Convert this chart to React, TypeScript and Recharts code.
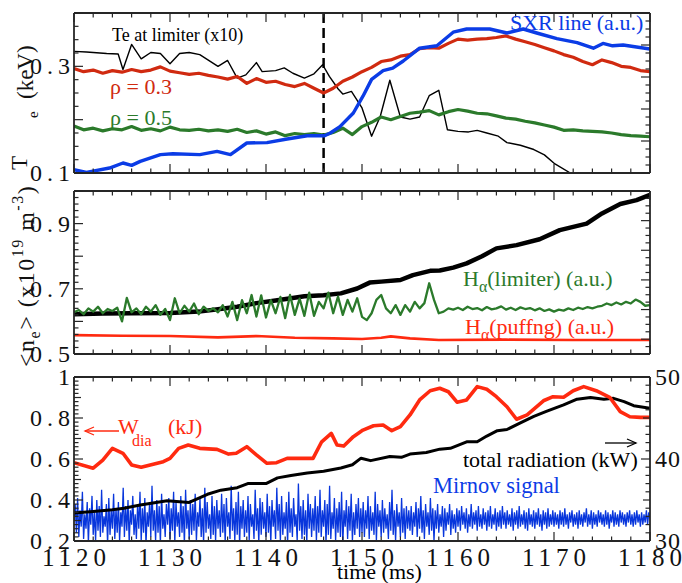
import React from 'react';
import { ComposedChart, Line, XAxis, YAxis, ReferenceLine } from 'recharts';

const FONT = "'Liberation Serif', 'Times New Roman', Times, serif";
const W = 682;
const H = 583;

// ---------- axes / ticks ----------
const TIME_DOMAIN = [1120, 1180];
const TIME_LABELS = [1120, 1130, 1140, 1150, 1160, 1170, 1180];
const P1_LABELS = [0.1, 0.3];
const P2_LABELS = [0.5, 0.7, 0.9];
const P3_LABELS = [0.2, 0.4, 0.6, 0.8, 1];
const P3_RIGHT_LABELS = [30, 40, 50];
const DASH_TIME = 1146;

// ---------- panel 1 : Te ----------
const TE_RHO03: [number, number][] = [
  [1120, 0.296], [1121, 0.290], [1122, 0.293], [1123, 0.287], [1124, 0.292], [1125, 0.289], [1126, 0.294], [1127, 0.290],
  [1128, 0.293], [1129, 0.299], [1130, 0.291], [1131, 0.288], [1132, 0.285], [1133, 0.287], [1134, 0.283], [1135, 0.280],
  [1136, 0.276], [1137, 0.281], [1138, 0.268], [1139, 0.277], [1140, 0.270], [1141, 0.272], [1142, 0.266], [1143, 0.262],
  [1144, 0.268], [1145, 0.259], [1146, 0.250], [1147, 0.259], [1148, 0.272], [1149, 0.280], [1150, 0.290], [1151, 0.298],
  [1152, 0.309], [1153, 0.312], [1154, 0.319], [1155, 0.322], [1156, 0.333], [1157, 0.335], [1158, 0.334], [1159, 0.343],
  [1160, 0.351], [1161, 0.349], [1162, 0.351], [1163, 0.352], [1164, 0.354], [1165, 0.357], [1166, 0.351], [1167, 0.346],
  [1168, 0.341], [1169, 0.335], [1170, 0.329], [1171, 0.322], [1172, 0.317], [1173, 0.309], [1174, 0.303], [1175, 0.312],
  [1176, 0.307], [1177, 0.300], [1178, 0.298], [1179, 0.292], [1180, 0.290],
];
const TE_RHO05: [number, number][] = [
  [1120, 0.188], [1121, 0.181], [1122, 0.184], [1123, 0.179], [1124, 0.183], [1125, 0.181], [1126, 0.187], [1127, 0.180],
  [1128, 0.183], [1129, 0.179], [1130, 0.186], [1131, 0.181], [1132, 0.180], [1133, 0.182], [1134, 0.179], [1135, 0.181],
  [1136, 0.178], [1137, 0.182], [1138, 0.176], [1139, 0.179], [1140, 0.173], [1141, 0.177], [1142, 0.170], [1143, 0.174],
  [1144, 0.172], [1145, 0.174], [1146, 0.171], [1147, 0.176], [1148, 0.184], [1149, 0.172], [1150, 0.187], [1151, 0.195],
  [1152, 0.205], [1153, 0.200], [1154, 0.206], [1155, 0.212], [1156, 0.214], [1157, 0.217], [1158, 0.209], [1159, 0.215],
  [1160, 0.219], [1161, 0.216], [1162, 0.212], [1163, 0.211], [1164, 0.207], [1165, 0.203], [1166, 0.201], [1167, 0.197],
  [1168, 0.194], [1169, 0.190], [1170, 0.186], [1171, 0.180], [1172, 0.181], [1173, 0.179], [1174, 0.178], [1175, 0.177],
  [1176, 0.175], [1177, 0.172], [1178, 0.170], [1179, 0.169], [1180, 0.168],
];
const TE_LIMITER: [number, number][] = [
  [1120, 0.328], [1121.3, 0.327], [1123.4, 0.324], [1124.6, 0.323], [1125.1, 0.294], [1126, 0.341], [1127, 0.314],
  [1128, 0.326], [1129, 0.324], [1130, 0.305], [1131, 0.324], [1132, 0.326], [1133.1, 0.322], [1135, 0.300], [1136, 0.311],
  [1137, 0.278], [1137.9, 0.284], [1139, 0.307], [1139.6, 0.290], [1141, 0.292], [1141.9, 0.297], [1142.8, 0.287],
  [1144, 0.278], [1145, 0.286], [1145.9, 0.303], [1146.6, 0.281], [1147.5, 0.258], [1148, 0.248], [1148.9, 0.253],
  [1150, 0.222], [1151, 0.169], [1151.9, 0.206], [1152.9, 0.274], [1154, 0.205], [1155, 0.201], [1156, 0.205],
  [1157, 0.245], [1158, 0.255], [1158.9, 0.181], [1160, 0.178], [1161.1, 0.177], [1162, 0.180], [1163, 0.175],
  [1164.2, 0.169], [1165.1, 0.157], [1166.5, 0.152], [1167.9, 0.144], [1169, 0.134], [1170.1, 0.117], [1171.7, 0.100],
  [1173, 0.085],
];
const SXR: [number, number][] = [
  [1120, 0.41], [1121.3, 0.08], [1123.7, 0.62], [1125.1, 1.25], [1126, 0.95], [1126.9, 1.45], [1129, 2.3], [1130.3, 2.4],
  [1133.1, 2.3], [1134.9, 2.7], [1136.3, 2.3], [1138, 3.75], [1140.1, 3.8], [1142.2, 4.25], [1144.3, 4.65], [1146.1, 4.65],
  [1146.7, 5.0], [1147.7, 5.8], [1149.1, 7.5], [1150.1, 9.6], [1151, 11.7], [1152.2, 12.8], [1153.2, 13.1], [1154.3, 14.0],
  [1156, 15.6], [1157.8, 15.9], [1159.5, 17.6], [1160.9, 18.0], [1163.3, 18.0], [1165.1, 17.5], [1166.8, 18.0],
  [1168.2, 17.5], [1170.3, 16.8], [1172.4, 16.3], [1174.1, 15.6], [1175.1, 16.2], [1176.1, 15.9], [1177.2, 16.0],
  [1180, 15.5],
];

// ---------- panel 2 : density & H-alpha ----------
const NE: [number, number][] = [
  [1120, 0.622], [1123, 0.624], [1126, 0.625], [1130, 0.626], [1133, 0.630], [1135, 0.637], [1137, 0.645], [1139, 0.656],
  [1141, 0.664], [1142.6, 0.671], [1144, 0.677], [1146, 0.680], [1147.8, 0.686], [1149.5, 0.701], [1150.8, 0.719],
  [1152, 0.722], [1154, 0.727], [1155.3, 0.742], [1157.1, 0.755], [1158.1, 0.756], [1159.5, 0.765], [1160.9, 0.778],
  [1162.5, 0.800], [1164, 0.824], [1166.1, 0.834], [1168.5, 0.852], [1170.6, 0.880], [1173.4, 0.900], [1175, 0.931],
  [1176.9, 0.960], [1178.6, 0.972], [1180, 0.988],
];
const HA_LIMITER_T0 = 1120;
const HA_LIMITER_DT = 0.5;
const HA_LIMITER = [
  0.628, 0.635, 0.622, 0.640, 0.630, 0.645, 0.625, 0.638, 0.632, 0.642,
  0.600, 0.672, 0.628, 0.640, 0.622, 0.645, 0.630, 0.650, 0.620, 0.638,
  0.604, 0.671, 0.625, 0.648, 0.630, 0.655, 0.622, 0.645, 0.632, 0.640,
  0.628, 0.650, 0.615, 0.660, 0.604, 0.665, 0.625, 0.681, 0.615, 0.680,
  0.612, 0.665, 0.625, 0.675, 0.610, 0.681, 0.620, 0.670, 0.617, 0.688,
  0.617, 0.660, 0.640, 0.688, 0.625, 0.676, 0.620, 0.666, 0.630, 0.671,
  0.614, 0.604, 0.625, 0.666, 0.681, 0.640, 0.625, 0.650, 0.620, 0.650,
  0.630, 0.660, 0.640, 0.656, 0.717, 0.666, 0.625, 0.630, 0.640, 0.636,
  0.642, 0.635, 0.645, 0.638, 0.641, 0.634, 0.644, 0.637, 0.640, 0.646,
  0.636, 0.642, 0.635, 0.643, 0.638, 0.641, 0.634, 0.640, 0.632, 0.637,
  0.630, 0.636, 0.633, 0.640, 0.635, 0.642, 0.638, 0.644, 0.640, 0.645,
  0.648, 0.655, 0.650, 0.658, 0.652, 0.660, 0.655, 0.667, 0.660, 0.648,
  0.650,
];
const HA_PUFF: [number, number][] = [
  [1120, 0.558], [1125, 0.556], [1130, 0.555], [1135, 0.551], [1139, 0.555], [1143, 0.550], [1147, 0.548],
  [1150, 0.546], [1152, 0.550], [1153, 0.554], [1155, 0.548], [1158, 0.543], [1165, 0.544], [1172, 0.543], [1180, 0.543],
];

// ---------- panel 3 : W_dia, radiation, Mirnov ----------
const WDIA: [number, number][] = [
  [1120, 0.582], [1122, 0.555], [1123, 0.595], [1124, 0.652], [1125.1, 0.628], [1126, 0.571], [1127, 0.560],
  [1129.3, 0.587], [1130, 0.603], [1130.9, 0.652], [1131.9, 0.668], [1133.1, 0.652], [1134.9, 0.647], [1136.1, 0.624],
  [1136.9, 0.628], [1138, 0.660], [1139, 0.620], [1140.1, 0.579], [1141.1, 0.582], [1142.2, 0.603], [1144.9, 0.603],
  [1145.8, 0.684], [1146.8, 0.725], [1147.4, 0.668], [1148.1, 0.663], [1149.1, 0.709], [1150.1, 0.741], [1151.2, 0.762],
  [1152.2, 0.766], [1153.1, 0.738], [1154, 0.758], [1155, 0.815], [1156, 0.888], [1157.1, 0.933], [1158.1, 0.945],
  [1159, 0.928], [1159.9, 0.877], [1160.9, 0.888], [1162, 0.953], [1163, 0.940], [1164, 0.904], [1165.1, 0.855],
  [1166.1, 0.794], [1167.2, 0.815], [1168.9, 0.884], [1169.9, 0.904], [1171, 0.901], [1172, 0.933], [1173.1, 0.953],
  [1174.4, 0.933], [1175.8, 0.901], [1176.9, 0.831], [1177.9, 0.806], [1179, 0.803], [1180, 0.803],
];
const RADIATION: [number, number][] = [
  [1120, 33.4], [1122, 33.6], [1124, 33.8], [1125.2, 34.0], [1126.9, 34.4], [1129.7, 34.9], [1132, 34.7], [1133.9, 35.7],
  [1135.3, 36.2], [1137, 36.5], [1138.1, 37.0], [1140, 37.0], [1141.2, 37.7], [1142.6, 38.0], [1144.3, 38.3], [1146, 38.5],
  [1147.8, 38.9], [1149, 39.3], [1149.9, 40.1], [1150.9, 39.8], [1152.9, 40.3], [1154.1, 40.2], [1155, 40.6],
  [1156.7, 40.8], [1158.1, 41.2], [1159.2, 41.3], [1160.9, 42.1], [1162, 42.1], [1163, 42.8], [1164.1, 43.45],
  [1165.1, 43.6], [1166.5, 44.4], [1167.9, 45.2], [1169.2, 45.8], [1171, 46.6], [1172.4, 47.3], [1173.8, 47.5],
  [1175.2, 47.3], [1176.2, 47.4], [1177.3, 47.0], [1178.3, 46.5], [1180, 46.2],
];
const MIRNOV_T0 = 1120;
const MIRNOV_DT = 0.125;
const MIRNOV = [
  0.30, 0.38, 0.24, 0.41, 0.22, 0.35, 0.27, 0.44, 0.21, 0.33, 0.26, 0.39, 0.19, 0.36, 0.28, 0.42, 0.23, 0.34, 0.20, 0.40,
  0.25, 0.37, 0.22, 0.45, 0.24, 0.32, 0.27, 0.38, 0.18, 0.41, 0.23, 0.35, 0.26, 0.43, 0.21, 0.36, 0.24, 0.39, 0.20, 0.34,
  0.27, 0.46, 0.22, 0.37, 0.25, 0.40, 0.19, 0.35, 0.28, 0.42, 0.23, 0.33, 0.21, 0.38, 0.26, 0.44, 0.20, 0.36, 0.24, 0.41,
  0.18, 0.34, 0.27, 0.39, 0.22, 0.47, 0.25, 0.35, 0.20, 0.40, 0.24, 0.37, 0.19, 0.43, 0.26, 0.33, 0.22, 0.38, 0.28, 0.41,
  0.21, 0.36, 0.25, 0.44, 0.19, 0.39, 0.27, 0.34, 0.22, 0.42, 0.24, 0.37, 0.18, 0.45, 0.26, 0.35, 0.21, 0.40, 0.23, 0.38,
  0.25, 0.43, 0.20, 0.34, 0.27, 0.41, 0.22, 0.36, 0.19, 0.46, 0.24, 0.39, 0.26, 0.33, 0.21, 0.42, 0.23, 0.37, 0.20, 0.40,
  0.26, 0.35, 0.22, 0.43, 0.24, 0.38, 0.19, 0.41, 0.27, 0.34, 0.21, 0.47, 0.25, 0.36, 0.20, 0.39, 0.23, 0.44, 0.18, 0.37,
  0.26, 0.40, 0.22, 0.35, 0.24, 0.42, 0.20, 0.38, 0.27, 0.33, 0.21, 0.45, 0.25, 0.36, 0.19, 0.41, 0.23, 0.39, 0.26, 0.34,
  0.22, 0.43, 0.24, 0.37, 0.19, 0.40, 0.27, 0.35, 0.21, 0.46, 0.25, 0.38, 0.20, 0.42, 0.23, 0.34, 0.26, 0.39, 0.18, 0.44,
  0.24, 0.36, 0.22, 0.41, 0.27, 0.33, 0.20, 0.48, 0.25, 0.37, 0.21, 0.40, 0.23, 0.35, 0.19, 0.43, 0.26, 0.38, 0.22, 0.36,
  0.25, 0.42, 0.20, 0.37, 0.24, 0.45, 0.22, 0.35, 0.27, 0.40, 0.19, 0.38, 0.23, 0.47, 0.21, 0.34, 0.26, 0.41, 0.20, 0.36,
  0.24, 0.39, 0.22, 0.44, 0.18, 0.35, 0.27, 0.40, 0.21, 0.37, 0.25, 0.43, 0.20, 0.34, 0.23, 0.38, 0.26, 0.41, 0.22, 0.36,
  0.24, 0.39, 0.22, 0.35, 0.26, 0.42, 0.21, 0.37, 0.25, 0.34, 0.23, 0.44, 0.20, 0.38, 0.27, 0.35, 0.22, 0.40, 0.24, 0.36,
  0.26, 0.33, 0.21, 0.39, 0.25, 0.45, 0.23, 0.35, 0.20, 0.38, 0.27, 0.34, 0.22, 0.41, 0.24, 0.36, 0.21, 0.37, 0.26, 0.35,
  0.25, 0.37, 0.23, 0.34, 0.27, 0.39, 0.22, 0.36, 0.26, 0.42, 0.24, 0.35, 0.21, 0.38, 0.27, 0.34, 0.23, 0.41, 0.25, 0.36,
  0.20, 0.35, 0.26, 0.38, 0.24, 0.33, 0.27, 0.37, 0.22, 0.36, 0.25, 0.34, 0.28, 0.38, 0.23, 0.35, 0.26, 0.33, 0.24, 0.36,
  0.27, 0.35, 0.25, 0.37, 0.28, 0.34, 0.26, 0.36, 0.24, 0.33, 0.27, 0.38, 0.26, 0.34, 0.28, 0.35, 0.25, 0.37, 0.27, 0.33,
  0.26, 0.36, 0.28, 0.34, 0.25, 0.35, 0.27, 0.37, 0.26, 0.33, 0.28, 0.36, 0.25, 0.34, 0.27, 0.35, 0.26, 0.37, 0.28, 0.34,
  0.26, 0.35, 0.28, 0.33, 0.27, 0.36, 0.25, 0.34, 0.28, 0.35, 0.26, 0.37, 0.27, 0.33, 0.28, 0.35, 0.26, 0.34, 0.25, 0.36,
  0.28, 0.33, 0.27, 0.35, 0.26, 0.34, 0.28, 0.36, 0.27, 0.33, 0.25, 0.35, 0.28, 0.34, 0.26, 0.36, 0.27, 0.33, 0.28, 0.35,
  0.27, 0.34, 0.28, 0.33, 0.26, 0.35, 0.28, 0.34, 0.27, 0.36, 0.28, 0.33, 0.26, 0.34, 0.29, 0.35, 0.27, 0.33, 0.28, 0.34,
  0.26, 0.35, 0.28, 0.33, 0.27, 0.34, 0.29, 0.36, 0.27, 0.33, 0.28, 0.35, 0.26, 0.34, 0.28, 0.33, 0.27, 0.35, 0.29, 0.34,
  0.28, 0.33, 0.27, 0.35, 0.28, 0.34, 0.26, 0.33, 0.29, 0.35, 0.27, 0.34, 0.28, 0.33, 0.27, 0.35, 0.29, 0.34, 0.28, 0.33,
  0.27, 0.34, 0.29, 0.35, 0.28, 0.33, 0.27, 0.34, 0.28, 0.35, 0.29, 0.33, 0.27, 0.34, 0.28, 0.33, 0.29, 0.35, 0.28, 0.34,
  0.31,
];

// ---------- helpers ----------
const pts = (arr: [number, number][]) => arr.map(([t, v]) => ({ t, v }));
const sampled = (vals: number[], t0: number, dt: number) => vals.map((v, i) => ({ t: t0 + i * dt, v }));
const range = (a: number, b: number, s: number) => {
  const out: number[] = [];
  for (let i = 0; a + i * s <= b + 1e-9; i++) out.push(Math.round((a + i * s) * 10000) / 10000);
  return out;
};
const isMult = (v: number, step: number, off = 0) => {
  const q = (v - off) / step;
  return Math.abs(q - Math.round(q)) < 1e-6;
};
const inList = (list: number[] | undefined, v: number) =>
  list ? list.find((l) => Math.abs(l - v) < 1e-6) : undefined;

const BLUE = '#0b3ce6';
const MIRNOV_BLUE = '#0836dc';
const GREEN = '#2b7a2b';
const RED1 = '#d02a10';
const RED = '#ff2a10';
const FRAME = '#262626';
const AXIS_LINE = { stroke: FRAME, strokeWidth: 1.8 };

type Side = 'bottom' | 'top' | 'left' | 'right';
interface TickOpts {
  major: (v: number) => boolean;
  mid?: (v: number) => boolean;
  labels?: number[];
}
function makeTick(side: Side, o: TickOpts) {
  return (props: any) => {
    const { x, y, payload } = props;
    const v = payload.value as number;
    const len = o.major(v) ? 9 : o.mid && o.mid(v) ? 7 : 4.5;
    let x2 = x;
    let y2 = y;
    if (side === 'bottom') y2 = y - len;
    if (side === 'top') y2 = y + len;
    if (side === 'left') x2 = x + len;
    if (side === 'right') x2 = x - len;
    const lab = inList(o.labels, v);
    let label: React.ReactNode = null;
    if (lab !== undefined) {
      const common = { fontFamily: FONT, fill: '#111' } as any;
      if (side === 'bottom') {
        label = (
          <text x={x + 2.5} y={y + 25} textAnchor="middle" fontSize={25} letterSpacing={5} {...common}>
            {String(lab)}
          </text>
        );
      } else if (side === 'left') {
        label = (
          <text x={x + 1} y={y} dy="0.34em" textAnchor="end" fontSize={24} letterSpacing={5} {...common}>
            {String(lab)}
          </text>
        );
      } else if (side === 'right') {
        label = (
          <text x={x + 5} y={y} dy="0.34em" textAnchor="start" fontSize={24} letterSpacing={1} {...common}>
            {String(lab)}
          </text>
        );
      }
    }
    return (
      <g>
        <line x1={x} y1={y} x2={x2} y2={y2} stroke={FRAME} strokeWidth={1.2} />
        {label}
      </g>
    );
  };
}

const TIME_TICKS = range(1120, 1180, 2);
const timeMajor = (v: number) => isMult(v, 10);

const margins = (top: number, bottom: number) => ({ top: top - 1, bottom: H - bottom - 1, left: 73, right: 31 });

const xAxes = (labels: boolean) => [
  <XAxis
    key="xb"
    xAxisId="b"
    dataKey="t"
    type="number"
    domain={TIME_DOMAIN}
    allowDataOverflow
    ticks={TIME_TICKS}
    interval={0}
    height={1}
    tickSize={0}
    tickMargin={0}
    tickLine={false}
    axisLine={AXIS_LINE}
    tick={makeTick('bottom', { major: timeMajor, labels: labels ? TIME_LABELS : undefined })}
  />,
  <XAxis
    key="xt"
    xAxisId="t"
    orientation="top"
    dataKey="t"
    type="number"
    domain={TIME_DOMAIN}
    allowDataOverflow
    ticks={TIME_TICKS}
    interval={0}
    height={1}
    tickSize={0}
    tickMargin={0}
    tickLine={false}
    axisLine={AXIS_LINE}
    tick={makeTick('top', { major: timeMajor })}
  />,
];

const yAxis = (
  id: string,
  side: 'left' | 'right',
  domain: number[],
  ticks: number[],
  o: TickOpts
) => (
  <YAxis
    key={id}
    yAxisId={id}
    orientation={side}
    type="number"
    domain={domain}
    allowDataOverflow
    ticks={ticks}
    interval={0}
    width={1}
    tickSize={0}
    tickMargin={0}
    tickLine={false}
    axisLine={AXIS_LINE}
    tick={makeTick(side, o)}
  />
);

const lineProps = { dot: false, isAnimationActive: false, type: 'linear' as const, dataKey: 'v', xAxisId: 'b', strokeLinejoin: 'round' as const, activeDot: false };

export default function App() {
  const abs: React.CSSProperties = { position: 'absolute', left: 0, top: 0 };
  return (
    <div style={{ position: 'absolute', left: 0, top: 0, width: W, height: H, background: '#fff', overflow: 'hidden' }}>
      {/* Panel 1 */}
      <div style={abs}>
        <ComposedChart width={W} height={H} margin={margins(13, 173)}>
          {xAxes(false)}
          {yAxis('l', 'left', [0.1, 0.4], range(0.1, 0.4, 0.025), { major: (v) => isMult(v, 0.1), labels: P1_LABELS })}
          {yAxis('r', 'right', [0, 20], range(0, 20, 1), { major: (v) => isMult(v, 4) })}
          <ReferenceLine xAxisId="b" yAxisId="l" x={DASH_TIME} stroke="#000" strokeWidth={2.5} strokeDasharray="10 5" />
          <Line {...lineProps} yAxisId="l" data={pts(TE_LIMITER)} stroke="#000" strokeWidth={1.4} />
          <Line {...lineProps} yAxisId="l" data={pts(TE_RHO05)} stroke={GREEN} strokeWidth={3.2} />
          <Line {...lineProps} yAxisId="l" data={pts(TE_RHO03)} stroke={RED1} strokeWidth={3.2} />
          <Line {...lineProps} yAxisId="r" data={pts(SXR)} stroke={BLUE} strokeWidth={3.4} />
        </ComposedChart>
      </div>
      {/* Panel 2 */}
      <div style={abs}>
        <ComposedChart width={W} height={H} margin={margins(191, 354)}>
          {xAxes(false)}
          {yAxis('l', 'left', [0.5, 1.0], range(0.5, 1.0, 0.02), { major: (v) => isMult(v, 0.1), labels: P2_LABELS })}
          {yAxis('r', 'right', [0, 22], range(0, 22, 1), { major: (v) => isMult(v, 4, 2) })}
          <Line {...lineProps} yAxisId="l" data={pts(HA_PUFF)} stroke={RED} strokeWidth={2.6} />
          <Line {...lineProps} yAxisId="l" data={pts(NE)} stroke="#000" strokeWidth={4.5} />
          <Line {...lineProps} yAxisId="l" data={sampled(HA_LIMITER, HA_LIMITER_T0, HA_LIMITER_DT)} stroke={GREEN} strokeWidth={2.3} />
        </ComposedChart>
      </div>
      {/* Panel 3 */}
      <div style={abs}>
        <ComposedChart width={W} height={H} margin={margins(377, 541)}>
          {xAxes(true)}
          {yAxis('l', 'left', [0.2, 1.0], range(0.2, 1.0, 0.02), { major: (v) => isMult(v, 0.2), mid: (v) => isMult(v, 0.1), labels: P3_LABELS })}
          {yAxis('r', 'right', [30, 50], range(30, 50, 1), { major: (v) => isMult(v, 10), mid: (v) => isMult(v, 5), labels: P3_RIGHT_LABELS })}
          <Line {...lineProps} yAxisId="l" data={sampled(MIRNOV, MIRNOV_T0, MIRNOV_DT)} stroke={MIRNOV_BLUE} strokeWidth={1.3} strokeLinejoin="miter" />
          <Line {...lineProps} yAxisId="r" data={pts(RADIATION)} stroke="#000" strokeWidth={3} />
          <Line {...lineProps} yAxisId="l" data={pts(WDIA)} stroke={RED} strokeWidth={3.6} />
        </ComposedChart>
      </div>
      {/* Annotations */}
      <svg width={W} height={H} style={{ ...abs, pointerEvents: 'none' }} fontFamily={FONT}>
        <text x={112} y={41} fontSize={18} fill="#000">Te at limiter (x10)</text>
        <text x={110} y={94} fontSize={22} fill={RED1}>ρ = 0.3</text>
        <text x={110} y={125} fontSize={22} fill={GREEN}>ρ = 0.5</text>
        <text x={510} y={30} fontSize={22} fill={BLUE}>SXR line (a.u.)</text>

        {/* Te axis title */}
        <text transform="translate(27,170) rotate(-90)" fontSize={23} fill="#111">T</text>
        <text transform="translate(38,118) rotate(-90)" fontSize={15} fill="#111">e</text>
        <text transform="translate(33,99) rotate(-90)" fontSize={23} fill="#111">(keV)</text>

        {/* ne axis title */}
        <text transform="translate(34,367) rotate(-90)" fontSize={24} letterSpacing={1.5} fill="#111">
          {'<n'}
          <tspan fontSize={16} dy={6}>e</tspan>
          <tspan dy={-6}>{'> (x10'}</tspan>
          <tspan fontSize={16} dy={-11}>19</tspan>
          <tspan dy={11}>{' m'}</tspan>
          <tspan fontSize={16} dy={-11}>-3</tspan>
          <tspan dy={11}>)</tspan>
        </text>

        <text x={463} y={286} fontSize={22} fill={GREEN}>
          H<tspan fontSize={16} dy={6}>α</tspan><tspan dy={-6}>(limiter) (a.u.)</tspan>
        </text>
        <text x={465} y={334} fontSize={22} fill={RED}>
          H<tspan fontSize={16} dy={6}>α</tspan><tspan dy={-6}>(puffng) (a.u.)</tspan>
        </text>

        {/* W_dia label with arrow */}
        <line x1={119} y1={431} x2={85} y2={431} stroke={RED} strokeWidth={1.3} />
        <polyline points="94,427 85,431 94,435" fill="none" stroke={RED} strokeWidth={1.3} />
        <text x={118} y={434} fontSize={22} fill={RED}>W</text>
        <text x={132} y={446} fontSize={16} fill={RED}>dia</text>
        <text x={168} y={434} fontSize={22} fill={RED}>(kJ)</text>

        <line x1={605} y1={443} x2={636} y2={443} stroke="#000" strokeWidth={1.3} />
        <polyline points="627,439 636,443 627,447" fill="none" stroke="#000" strokeWidth={1.3} />
        <text x={463} y={467} fontSize={22} fill="#000">total radiation (kW)</text>
        <text x={433} y={493} fontSize={22.5} fill={BLUE}>Mirnov signal</text>
        <text x={337} y={579} fontSize={22} fill="#000">time (ms)</text>
      </svg>
    </div>
  );
}
